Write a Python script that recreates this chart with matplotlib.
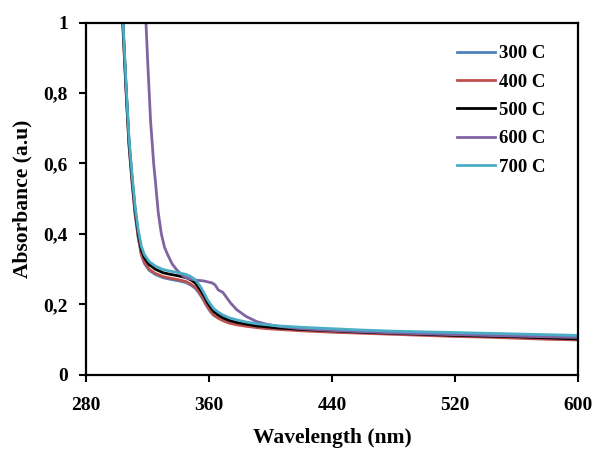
import numpy as np
import matplotlib
matplotlib.use("Agg")
import matplotlib.pyplot as plt

plt.rcParams["font.family"] = ["Liberation Serif", "DejaVu Serif"]
plt.rcParams["font.weight"] = "bold"

# ── data ──────────────────────────────────────────────────────────────────────
wl = [300, 302, 304, 306, 308, 310, 312, 314, 316, 318, 321, 325, 330, 335,
      340, 345, 348, 351, 353, 355, 357, 359, 361, 363, 366, 369, 373, 378,
      384, 391, 398, 405, 420, 440, 460, 480, 500, 520, 540, 560, 580, 600]

abs_500 = [1.6, 1.25, 1.0, 0.82, 0.66, 0.555, 0.465, 0.4, 0.355, 0.332, 0.313,
           0.3, 0.29, 0.285, 0.281, 0.276, 0.27, 0.261, 0.25, 0.237, 0.222,
           0.205, 0.192, 0.18, 0.17, 0.162, 0.155, 0.149, 0.144, 0.139, 0.136,
           0.133, 0.129, 0.125, 0.121, 0.118, 0.115, 0.112, 0.110, 0.108, 0.105,
           0.102]
abs_400 = [1.6, 1.24, 0.99, 0.81, 0.65, 0.545, 0.455, 0.39, 0.343, 0.319, 0.3,
           0.288, 0.279, 0.274, 0.27, 0.265, 0.258, 0.249, 0.238, 0.225, 0.21,
           0.194, 0.181, 0.17, 0.161, 0.154, 0.147, 0.142, 0.138, 0.134, 0.131,
           0.129, 0.125, 0.121, 0.118, 0.115, 0.112, 0.109, 0.107, 0.104, 0.101,
           0.099]
abs_300 = [1.6, 1.24, 0.99, 0.81, 0.65, 0.545, 0.455, 0.388, 0.34, 0.316, 0.297,
           0.285, 0.276, 0.271, 0.267, 0.262, 0.255, 0.246, 0.235, 0.222, 0.207,
           0.192, 0.179, 0.169, 0.161, 0.155, 0.149, 0.145, 0.141, 0.137, 0.134,
           0.132, 0.128, 0.125, 0.122, 0.120, 0.118, 0.116, 0.114, 0.112, 0.110,
           0.108]
abs_700 = [1.6, 1.26, 1.01, 0.83, 0.67, 0.565, 0.475, 0.41, 0.365, 0.341, 0.322,
           0.309, 0.299, 0.294, 0.29, 0.285, 0.279, 0.27, 0.259, 0.246, 0.23,
           0.213, 0.2, 0.188, 0.178, 0.17, 0.162, 0.156, 0.15, 0.145, 0.142,
           0.139, 0.135, 0.131, 0.127, 0.124, 0.122, 0.120, 0.118, 0.116, 0.114,
           0.112]

wl_600 = [315, 317, 319, 320, 322, 324, 325, 327, 329, 331, 333, 336, 339, 343,
          346, 350, 353, 356, 359, 362, 364, 366, 369, 371, 374, 378, 384, 391,
          398, 405, 420, 440, 480, 520, 560, 600]
abs_600 = [1.6, 1.25, 1.0, 0.9, 0.72, 0.6, 0.555, 0.46, 0.4, 0.363, 0.342,
           0.315, 0.298, 0.281, 0.274, 0.27, 0.268, 0.267, 0.264, 0.261, 0.255,
           0.241, 0.234, 0.222, 0.204, 0.185, 0.166, 0.151, 0.143, 0.138, 0.131,
           0.126, 0.119, 0.114, 0.110, 0.106]

SERIES = [
    ("300 C", wl, abs_300, "#4F81BD"),
    ("400 C", wl, abs_400, "#C0504D"),
    ("500 C", wl, abs_500, "#000000"),
    ("600 C", wl_600, abs_600, "#8064A2"),
    ("700 C", wl, abs_700, "#4BACC6"),
]

x_ticks = [280, 360, 440, 520, 600]
y_ticks = [0, 0.2, 0.4, 0.6, 0.8, 1.0]
y_tick_labels = ["0", "0,2", "0,4", "0,6", "0,8", "1"]

# ── plot ──────────────────────────────────────────────────────────────────────
fig = plt.figure(figsize=(5.93, 4.5), dpi=100)
ax = fig.add_axes([0.145, 0.167, 0.83, 0.783])

for label, x, y, color in SERIES:
    ax.plot(x, y, color=color, lw=2.0, label=label)

ax.set_xlim(280, 600)
ax.set_ylim(0, 1)
ax.set_xticks(x_ticks)
ax.set_xticklabels([str(t) for t in x_ticks])
ax.set_yticks(y_ticks)
ax.set_yticklabels(y_tick_labels)
ax.tick_params(direction="out", length=5, width=1.5, labelsize=14, pad=8)
ax.tick_params(axis="x", pad=11)
for sp in ax.spines.values():
    sp.set_linewidth(1.6)

ax.set_xlabel("Wavelength (nm)", fontsize=15.5, fontweight="bold", labelpad=10)
ax.set_ylabel("Absorbance (a.u)", fontsize=15.5, fontweight="bold", labelpad=8)

ax.legend(loc="upper left", frameon=False, fontsize=13.5, handlelength=2.0,
          handletextpad=0.25, labelspacing=0.6, borderpad=0, borderaxespad=0,
          bbox_to_anchor=(0.754, 0.936))

fig.savefig("out.png", dpi=100)
